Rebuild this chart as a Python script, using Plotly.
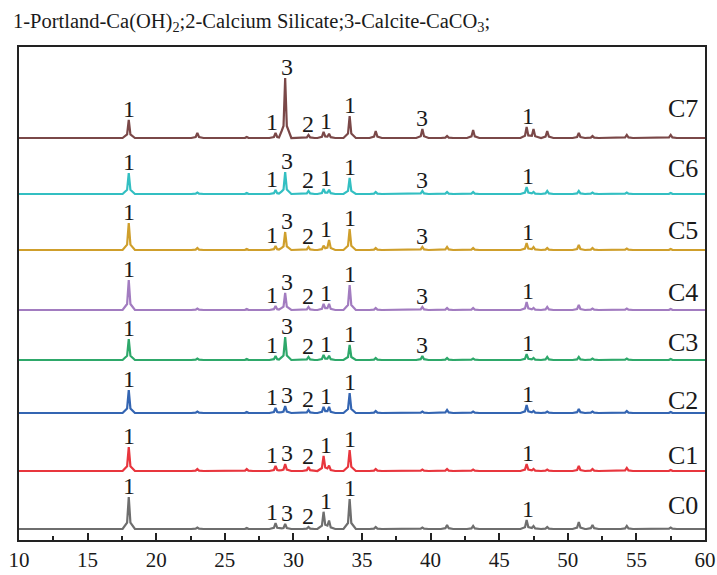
import numpy as np
import plotly.graph_objects as go

# ---- data ----
series_names = ["C0", "C1", "C2", "C3", "C4", "C5", "C6", "C7"]
series_colors = ["#6e6e6e", "#e8363e", "#3465b2", "#2ea86a", "#a27cc0", "#cf9f2c", "#33bfc2", "#7a4848"]
# stacking offset (baseline) of each pattern, in display intensity units
baselines = [11, 69, 127, 180, 230, 290, 346, 402]

# common 2-theta peak positions (deg)
peak_2theta = [18.0, 23.0, 26.6, 28.7, 29.4, 31.1, 32.2, 32.6, 34.1, 36.0,
               39.4, 41.2, 43.1, 47.0, 47.5, 48.5, 50.8, 51.8, 54.3, 57.5]
# peak heights per sample (relative intensity above baseline)
h_C0 = [32, 1.5, 1, 6, 5, 2, 17, 8, 30, 2, 1.5, 4, 3, 9, 3, 2, 7, 4, 3, 1.5]
h_C1 = [24, 2, 2, 5, 7, 4, 15, 5, 21, 2, 1.5, 2, 1.5, 7, 2, 1.5, 5, 2, 3, 1]
h_C2 = [23, 1.5, 1, 5, 7, 3, 6, 6, 20, 2, 1.5, 3, 1.5, 8, 2, 1.5, 4, 1.5, 2, 1]
h_C3 = [21, 1.5, 1, 4, 23, 3, 5, 4, 15, 2, 4, 2, 1.5, 6, 2, 3, 3, 1.5, 1.5, 1]
h_C4 = [30, 1.5, 1, 4, 17, 3, 6, 6, 25, 2, 3, 2, 2, 8, 2, 3, 5, 1.5, 1.5, 1]
h_C5 = [27, 2, 1, 4, 18, 3, 4, 10, 21, 2, 3, 3, 2, 7, 3, 2, 5, 2, 1.5, 1]
h_C6 = [21, 1.5, 1, 4, 22, 3, 5, 4, 16, 2, 3, 2, 2, 7, 2, 3, 3, 1.5, 1.5, 1]
h_C7 = [18, 5, 1, 5, 60, 3, 6, 4, 22, 7, 9, 2, 8, 11, 9, 7, 5, 2, 3, 3]
heights = [h_C0, h_C1, h_C2, h_C3, h_C4, h_C5, h_C6, h_C7]

# phase labels: (2-theta, label)
labels_base = [(18.0, "1"), (28.45, "1"), (29.5, "3"), (31.05, "2"), (32.35, "1"), (34.1, "1"), (47.1, "1")]
labels_calcite = labels_base + [(39.4, "3")]
phase_labels = [labels_base, labels_base, labels_base, labels_calcite,
                labels_calcite, labels_calcite, labels_calcite, labels_calcite]
name_label_offset = [24, 16, 13, 18, 18, 20, 26, 30]

title_text = "1-Portland-Ca(OH)<sub>2</sub>;2-Calcium Silicate;3-Calcite-CaCO<sub>3</sub>;"

# ---- peak profile styling (piecewise linear) ----
prof_dx = [-0.45, -0.12, 0.0, 0.12, 0.45]
prof_fr = [0.0, 0.2, 1.0, 0.2, 0.0]

xs = sorted(set([10.0, 60.0] + [p + d for p in peak_2theta for d in prof_dx]))
xs = np.array(xs)


def profile(hs):
    y = np.zeros_like(xs)
    for p, h in zip(peak_2theta, hs):
        y += np.interp(xs, [p + d for d in prof_dx], [h * f for f in prof_fr], left=0, right=0)
    return y


FONT = "Liberation Serif"
TXT = "#1a1a1a"
fig = go.Figure()
annotations = []
for name, col, base, hs, labs, noff in zip(series_names, series_colors, baselines, heights,
                                          phase_labels, name_label_offset):
    y = profile(hs)
    fig.add_trace(go.Scatter(x=xs, y=y + base, mode="lines", line=dict(color=col, width=2.2),
                             name=name, showlegend=False, hoverinfo="skip"))
    for lx, lt in labs:
        m = (xs >= lx - 0.35) & (xs <= lx + 0.35)
        top = y[m].max() if m.any() else 0
        annotations.append(dict(x=lx, y=base + top - 4, text=lt, showarrow=False,
                                xanchor="center", yanchor="bottom",
                                font=dict(family=FONT, size=24, color=TXT)))
    annotations.append(dict(x=58.4, y=base + noff, text=name, showarrow=False,
                            xanchor="center", yanchor="middle",
                            font=dict(family=FONT, size=26, color=TXT)))

fig.update_layout(
    width=717, height=575,
    margin=dict(l=19, r=12, t=47, b=35),
    paper_bgcolor="white", plot_bgcolor="white",
    title=dict(text=title_text, x=13 / 717, xanchor="left", y=1 - 21 / 575, yanchor="middle",
               font=dict(family=FONT, size=20.5, color=TXT)),
    annotations=annotations,
    xaxis=dict(range=[10, 60], tickvals=list(range(10, 61, 5)), ticks="inside", ticklen=7,
               tickwidth=1.5, tickcolor="#222", automargin=False, ticklabelstandoff=0,
               minor=dict(tickvals=[12.5 + 5 * i for i in range(10)], ticks="inside", ticklen=4,
                          tickwidth=1.5, tickcolor="#222"),
               showline=True, mirror=True, linecolor="#222", linewidth=1.5,
               showgrid=False, zeroline=False,
               tickfont=dict(family=FONT, size=21, color=TXT)),
    yaxis=dict(range=[0, 493], showticklabels=False, ticks="", showline=True, mirror=True,
               automargin=False, linecolor="#222", linewidth=1.5, showgrid=False, zeroline=False),
)

fig.write_html("out.html")
